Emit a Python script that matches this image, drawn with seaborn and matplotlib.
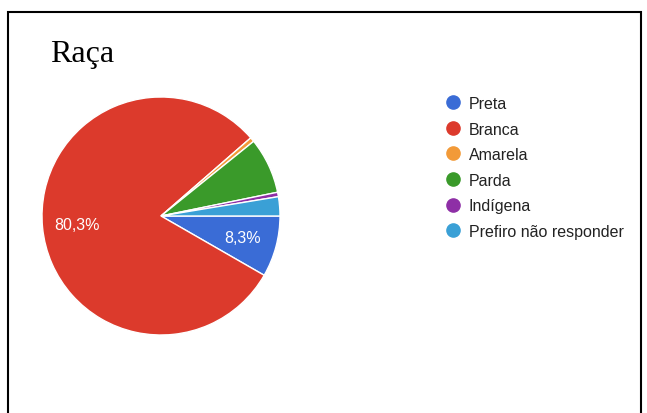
import matplotlib
matplotlib.use("Agg")
import matplotlib.pyplot as plt
import seaborn as sns
from matplotlib.lines import Line2D
from matplotlib.patches import Rectangle

# race survey answers (share of responses, %)
categories = ["Preta", "Branca", "Amarela", "Parda", "Indígena", "Prefiro não responder"]
shares = [8.3, 80.3, 0.6, 7.6, 0.6, 2.6]
colors = ["#3A6CD6", "#DC3A2C", "#F29A38", "#3A9A2A", "#8E2FA6", "#3AA0D6"]
title = "Raça"

sns.set_theme(style="white")
plt.rcParams["font.family"] = ["Liberation Sans", "DejaVu Sans"]

W, H = 647, 414
fig = plt.figure(figsize=(W / 100, H / 100), dpi=100)
fig.patch.set_facecolor("white")

# pie axes placed so the pie sits at the same spot as the reference
cx, cy, r = 161, 217, 119
ax = fig.add_axes([(cx - r) / W, (H - cy - r) / H, 2 * r / W, 2 * r / H])


def pct_label(p):
    # only the big slices get a label, like the original
    if p < 8:
        return ""
    return f"{p:.1f}%".replace(".", ",")


wedges, texts, autotexts = ax.pie(
    shares,
    colors=colors,
    startangle=0,
    counterclock=False,
    autopct=pct_label,
    pctdistance=0.71,
    wedgeprops=dict(edgecolor="white", linewidth=1),
    textprops=dict(color="white", fontsize=11.5),
)
ax.set_xlim(-1, 1)
ax.set_ylim(-1, 1)
ax.set_aspect("equal")
ax.axis("off")

# legend with round markers
handles = [
    Line2D([0], [0], marker="o", linestyle="", markersize=9.5,
           markerfacecolor=c, markeredgecolor=c)
    for c in colors
]
fig.legend(
    handles, categories,
    loc="upper left",
    bbox_to_anchor=(437 / W, 1 - 89 / H),
    frameon=False,
    fontsize=11.5,
    labelspacing=0.66,
    handletextpad=0.5,
    handlelength=1.0,
    borderpad=0,
    labelcolor="#222222",
)

# title in a serif face
fig.text(50 / W, 1 - 62 / H, title, fontsize=23, family="Liberation Serif",
         color="black", va="baseline", ha="left")

# outer frame (open at the bottom edge of the image)
frame = Rectangle((8 / W, -0.05), 633 / W, 1.05 - 13 / H,
                  transform=fig.transFigure, fill=False,
                  edgecolor="black", linewidth=1.5)
fig.add_artist(frame)

fig.savefig("out.png", dpi=100)
